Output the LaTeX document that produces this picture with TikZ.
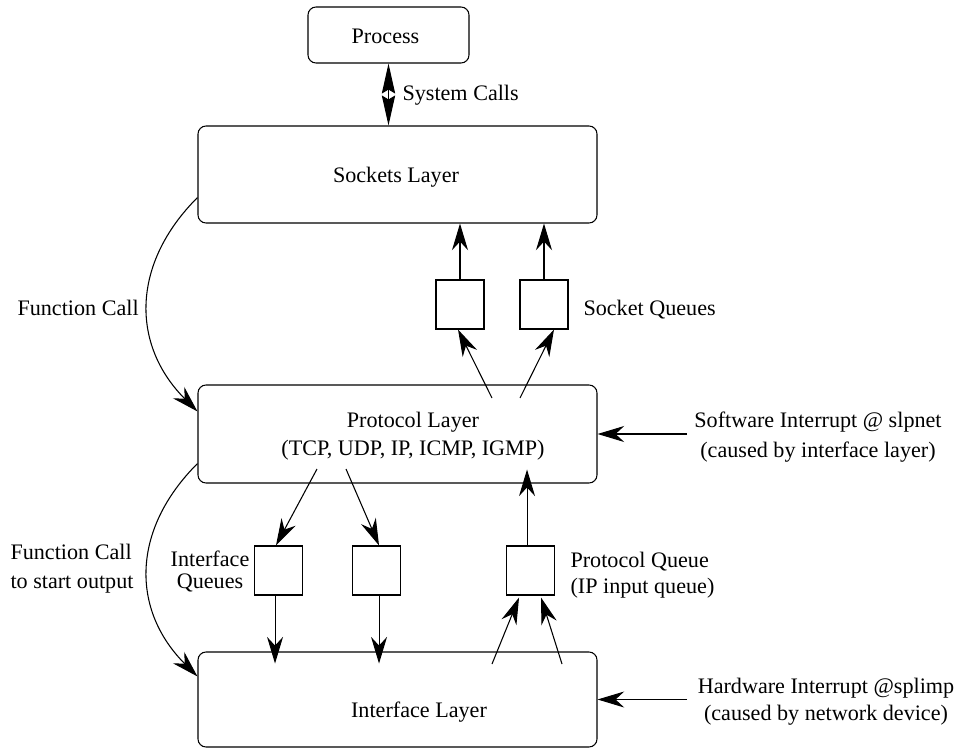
\documentclass[tikz,border=0pt]{standalone}
\usepackage{fontspec}
\setmainfont{Liberation Serif}
\usetikzlibrary{arrows.meta,calc}
\begin{document}
\begin{tikzpicture}[x=0.75pt,y=-0.75pt,
  font=\fontsize{16.6}{22}\selectfont,
  line width=0.8pt,
  layer/.style={draw,rounded corners=6pt,minimum width=299.25pt,inner sep=0pt},
  queue/.style={draw,minimum width=36pt,minimum height=36.75pt,inner sep=0pt},
  lbl/.style={inner sep=0pt},
  arr/.style={-{Stealth[length=20pt,width=12pt,inset=6.5pt]}},
  dbl/.style={{Stealth[length=22.5pt,width=10pt,inset=3pt]}-{Stealth[length=22.5pt,width=10pt,inset=3pt]}}
]
\useasboundingbox (0,0) rectangle (958,749);

% layers
\node[draw,rounded corners=6pt,minimum width=120.75pt,minimum height=42pt,inner sep=0pt] (proc) at (388.5,35) {};
\node[layer,minimum height=72.75pt] (sock) at (397.5,174.5) {};
\node[layer,minimum height=73.5pt] (prot) at (397.5,434) {};
\node[layer,minimum height=71.25pt] (intf) at (397.5,699.5) {};

% layer texts
\node[lbl] (proct) at (385.5,36) {Process};
\node[lbl] (sockt) at (396,177) {Sockets Layer};
\node[lbl,align=center] (prott) at (413,436) {Protocol Layer\\[-1pt](TCP, UDP, IP, ICMP, IGMP)};
\node[lbl] (intft) at (419,712) {Interface Layer};

% queues
\node[queue] (sq1) at (460,304.5) {};
\node[queue] (sq2) at (544,304.5) {};
\node[queue] (iq1) at (278.5,570.5) {};
\node[queue] (iq2) at (376.5,570.5) {};
\node[queue] (pq) at (530.5,570.5) {};

% labels
\node[lbl,anchor=west] (sys) at (402,95) {System Calls};
\node[lbl,anchor=west] (fc1) at (17,308) {Function Call};
\node[lbl,anchor=west] (sql) at (583,310) {Socket Queues};
\node[lbl,align=center] (sw) at (818,437) {Software Interrupt @ slpnet\\(caused by interface layer)};
\node[lbl,anchor=west,align=left] (fc2) at (10,569) {Function Call\\to start output};
\node[lbl,align=center] (iql) at (210,571.5) {Interface\\[-6pt]Queues};
\node[lbl,anchor=west,align=left] (pql) at (570,575) {Protocol Queue\\[-2.5pt](IP input queue)};
\node[lbl,align=center] (hw) at (826,701.5) {Hardware Interrupt @splimp\\[-1.7pt](caused by network device)};

% coordinates inside boxes
\coordinate (p1) at (492,398);
\coordinate (p2) at (520,398);
\coordinate (p3) at (317,469);
\coordinate (p4) at (346,469);
\coordinate (i1) at (492,664);
\coordinate (i2) at (562,664);
\coordinate (swa) at (687,0);
\coordinate (hwa) at (687,0);

% system calls
\draw[dbl] (proc.south) -- (proc.south |- sock.north);

% socket queues
\draw[arr] (sq1.north) -- (sq1.north |- sock.south);
\draw[arr] (sq2.north) -- (sq2.north |- sock.south);
\draw[arr] (p1) -- ([xshift=-1.5pt]sq1.south);
\draw[arr] (p2) -- ([xshift=7.5pt]sq2.south);

% interface queues
\draw[arr] (p3) -- ([xshift=-1.9pt]iq1.north);
\draw[arr] (p4) -- ([xshift=1.9pt]iq2.north);
\draw[arr] ([xshift=-2.6pt]iq1.south) -- ++(0,68);
\draw[arr] ([xshift=1.9pt]iq2.south) -- ++(0,68);

% protocol queue
\draw[arr] ([xshift=-2.6pt]pq.north) -- ++(0,-76);
\draw[arr] (i1) -- ([xshift=-8.6pt,yshift=-1.5pt]pq.south);
\draw[arr] (i2) -- ([xshift=7.9pt,yshift=-1.5pt]pq.south);

% interrupts
\draw[arr] (swa |- prot.east) -- (prot.east);
\draw[arr] (hwa |- intf.east) -- (intf.east);

% function calls
\draw[arr] ($(sock.south west)+(0,-26)$) .. controls (131,264) and (131,345) .. ($(prot.north west)+(0,27)$);
\draw[arr] ($(prot.south west)+(0,-20)$) .. controls (131,530) and (131,610) .. ($(intf.north west)+(0,25)$);
\end{tikzpicture}
\end{document}
